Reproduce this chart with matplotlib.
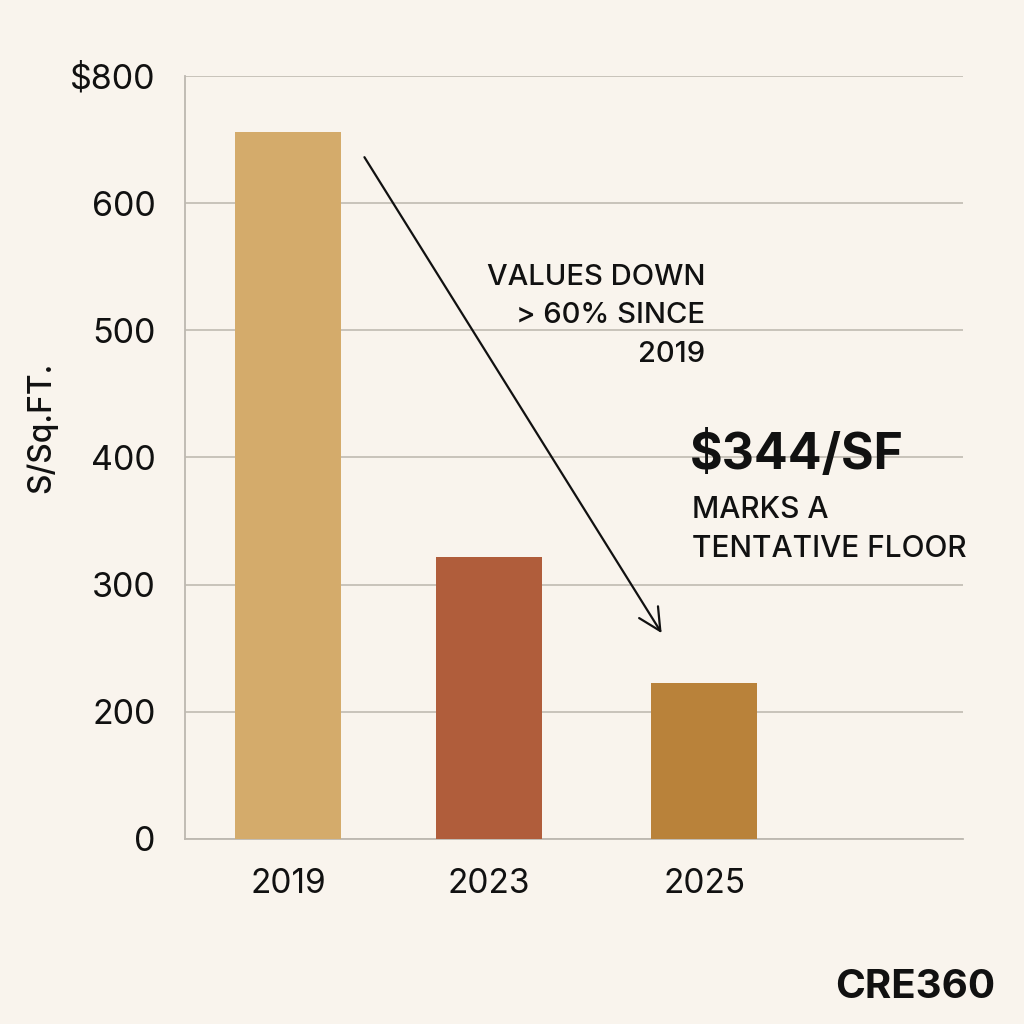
import matplotlib
matplotlib.use("Agg")
import matplotlib.pyplot as plt
import numpy as np

# datos
years = ["2019", "2023", "2025"]
price_sf = [712, 322, 223]
tick_vals = [0, 200, 300, 400, 500, 600, 800]
tick_labels = ["0", "200", "300", "400", "500", "600", "$800"]
bar_colors = ["#d4ab6b", "#b05d3b", "#b9823a"]

# the y axis spaces its gridlines evenly, whatever the value step
grid_pos = np.arange(len(tick_vals))


def forward(v):
    return np.interp(v, tick_vals, grid_pos)


def inverse(p):
    return np.interp(p, grid_pos, tick_vals)


bg = "#f9f4ed"
plt.rcParams['font.family'] = ['Inter', 'DejaVu Sans']

fig = plt.figure(figsize=(10.24, 10.24), dpi=100, facecolor=bg)
ax = fig.add_axes([0.1807, 0.1807, 0.7598, 0.7451])
ax.set_facecolor(bg)
ax.set_yscale('function', functions=(forward, inverse))

x = np.array([0, 1, 2.07])
ax.bar(x, price_sf, width=0.527, color=bar_colors, zorder=3)

ax.set_ylim(0, 800)
ax.set_xlim(-0.512, 3.358)
ax.set_yticks(tick_vals)
ax.set_yticklabels(tick_labels)
ax.set_xticks(x)
ax.set_xticklabels(years)
ax.yaxis.set_minor_locator(matplotlib.ticker.NullLocator())
ax.tick_params(axis='y', length=0, pad=21, labelsize=24.5, labelcolor='#111111')
ax.tick_params(axis='x', length=0, pad=21, labelsize=24, labelcolor='#111111')
ax.grid(True, axis='y', color='#c4bfb6', linewidth=1.3, zorder=0)

for s in ['top', 'right']:
    ax.spines[s].set_visible(False)
for s in ['left', 'bottom']:
    ax.spines[s].set_color('#bdb8b0')
    ax.spines[s].set_linewidth(1.3)

ax.set_ylabel("S/Sq.FT.", fontsize=23, color='#111111', fontweight='medium')
ax.yaxis.set_label_coords(-0.164, 0.539)

ax.annotate("", xy=(1.866, 260), xytext=(0.373, 676),
            arrowprops=dict(arrowstyle='->', color='#111111', lw=1.6,
                            mutation_scale=40), zorder=5)

tr = ax.get_xaxis_transform()
ax.text(2.075, 0.754, "VALUES DOWN\n> 60% SINCE\n2019", transform=tr,
        ha='right', va='top', fontsize=21, color='#111111', linespacing=1.56,
        fontweight='medium')
ax.text(2.0, 0.503, "$344/SF", transform=tr,
        ha='left', va='center', fontsize=36, fontweight='bold', color='#111111')
ax.text(2.01, 0.405, "MARKS A\nTENTATIVE FLOOR", transform=tr,
        ha='left', va='center', fontsize=21.5, fontweight='medium', color='#111111',
        linespacing=1.5)

fig.text(0.972, 0.036, "CRE360", ha='right', va='center', fontsize=29,
         fontweight='bold', color='#111111')

fig.savefig('out.png', dpi=100, facecolor=bg)
